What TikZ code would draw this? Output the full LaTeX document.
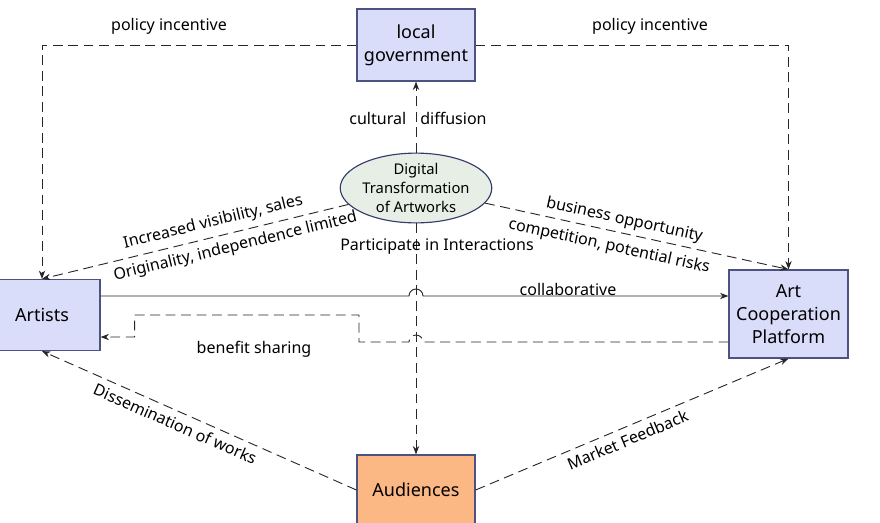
\documentclass[tikz,border=0pt]{standalone}
\usepackage{fontspec}
\setmainfont{Noto Sans}
\definecolor{boxblue}{HTML}{DADDFA}
\definecolor{boxedge}{HTML}{4E5283}
\definecolor{ellgreen}{HTML}{E6EEE5}
\definecolor{elledge}{HTML}{353A6B}
\definecolor{audorange}{HTML}{FBB884}
\definecolor{linegray}{HTML}{262626}
\usetikzlibrary{arrows.meta, positioning, shapes, calc}

\begin{document}
\begin{tikzpicture}[x=0.025cm, y=-0.025cm,
    actor/.style={rectangle, fill=boxblue, draw=boxedge, line width=0.8pt,
                  font=\fontsize{12.8}{16.5}\selectfont, align=center, inner sep=0pt},
    core/.style={ellipse, fill=ellgreen, draw=elledge, line width=0.8pt,
                 minimum width=2.975cm, minimum height=1.675cm, inner sep=0pt,
                 font=\fontsize{10.5}{13.5}\selectfont, align=center},
    dflow/.style={draw=linegray, line width=0.65pt, dash pattern=on 7pt off 4pt,
                  -{Stealth[length=6pt, width=4.5pt]}},
    sflow/.style={draw=linegray, line width=0.65pt,
                  -{Stealth[length=6pt, width=4.5pt]}},
    lbl/.style={font=\fontsize{11.4}{14}\selectfont, text=black}
  ]
    \useasboundingbox (0,0) rectangle (880,522);

    % Actors
    \node[actor, minimum width=2.95cm, minimum height=1.8cm] (gov) at (416,45)
      {local\\government};
    \node[actor, minimum width=2.9cm, minimum height=1.775cm] (artists) at (42,315)
      {Artists};
    \node[actor, minimum width=2.975cm, minimum height=2.2cm] (platform) at (788.5,314)
      {Art\\Cooperation\\Platform};
    \node[actor, fill=audorange, minimum width=2.95cm, minimum height=1.75cm] (aud)
      at (416,490) {Audiences};
    % Central driver
    \node[core] (dig) at (416,188) {Digital\\Transformation\\of Artworks};

    % Policy incentive
    \draw[dflow] (gov.west) -| (artists.north);
    \draw[dflow] (gov.east) -| (platform.north);
    \node[lbl] (polL) at (169,26) {policy incentive};
    \node[lbl] (polR) at (650,26) {policy incentive};

    % Cultural diffusion / participation
    \draw[dflow] (dig.north) -- (gov.south);
    \node[lbl] (cult) at (418,118) {cultural\hspace{10pt}diffusion};
    \draw[dflow] (dig.south) -- (aud.north);
    \node[lbl] (part) at (437,247) {Participate in Interactions};

    % Effects on artists and platform
    \draw[dflow] (dig) -- (artists.north)
      node[lbl, pos=0.43, above=1pt, sloped] {Increased visibility, sales}
      node[lbl, pos=0.38, below=1pt, sloped] {Originality, independence limited};
    \draw[dflow] (dig) -- (platform.north)
      node[lbl, pos=0.45, above=0pt, sloped] {business opportunity}
      node[lbl, pos=0.42, below=2pt, sloped] {competition, potential risks};

    % Collaboration and benefit sharing
    \coordinate (colA) at ([yshift=0.475cm]artists.east);
    \draw[sflow] (colA) -- ($(colA -| dig.south)+(-7,0)$) arc (180:360:7)
      -- (colA -| platform.west);
    \node[lbl] (collab) at (568,289) {collaborative};
    \coordinate (benP) at ([yshift=-0.7cm]platform.west);
    \coordinate (benA) at ([yshift=-0.55cm]artists.east);
    \draw[dflow] (benP) -- ($(benP -| dig.south)+(7,0)$) arc (0:-180:7)
      -- ++(-50,0) -- ++(0,-27) -| ($(benA)+(34,0)$) -- (benA);
    \node[lbl] (benefit) at (254,349) {benefit sharing};

    % Audience feedback
    \draw[dflow] (aud.west) -- (artists.south)
      node[lbl, pos=0.56, below=1pt, sloped] {Dissemination of works};
    \draw[dflow] (aud.east) -- (platform.south)
      node[lbl, pos=0.47, below=1pt, sloped] {Market Feedback};
\end{tikzpicture}
\end{document}
